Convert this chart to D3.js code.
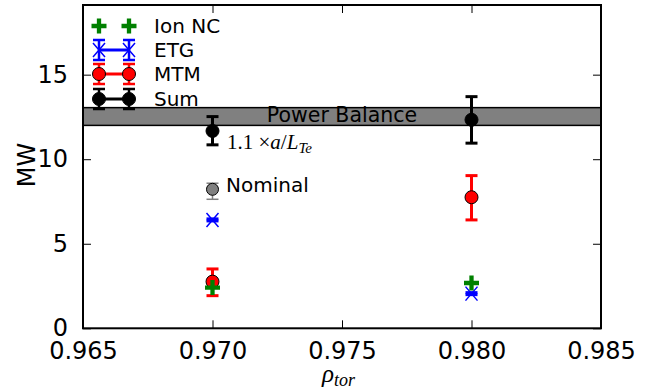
<!DOCTYPE html>
<html><head><meta charset="utf-8">
<script src="https://cdn.jsdelivr.net/npm/d3@7"></script>
<style>
html,body{margin:0;padding:0;background:#fff;}
svg{display:block;}
</style></head>
<body>
<svg id="chart" width="655" height="392"></svg>
<script>
// ---- data ----
const rho = [0.970, 0.980];
const ionNC = [2.41, 2.68];
const etg = [6.41, 2.05];
const etgErr = [0.06, 0.06];
const mtm = [2.76, 7.75];
const mtmLo = [1.93, 6.41];
const mtmHi = [3.51, 9.03];
const sum = [11.67, 12.33];
const sumLo = [10.85, 10.95];
const sumHi = [12.52, 13.70];
const nominalRho = [0.970];
const nominal = [8.22];
const nominalLo = [7.63];
const nominalHi = [8.58];
const powerBalance = [12.0, 13.05];
const xTicks = [0.965, 0.970, 0.975, 0.980, 0.985];
const yTicks = [0, 5, 10, 15];
const legendNames = ["Ion NC", "ETG", "MTM", "Sum"];

// ---- layout ----
const svg = d3.select("#chart");
const L = 83, R = 601, T = 5, B = 328.3;
const x = d3.scaleLinear().domain([0.965, 0.985]).range([L, R]);
const y = d3.scaleLinear().domain([0, 19.12]).range([B, T]);
const font = "DejaVu Sans";

// power balance band
svg.append("rect")
  .attr("x", L).attr("width", R - L)
  .attr("y", y(powerBalance[1])).attr("height", y(powerBalance[0]) - y(powerBalance[1]))
  .attr("fill", "#808080").attr("stroke", "black").attr("stroke-width", 1.5);
svg.append("text").attr("x", x(0.975)).attr("y", y(12.0) - 3.3)
  .attr("text-anchor", "middle").attr("font-family", font).attr("font-size", 20.5)
  .attr("fill", "black").text("Power Balance");

const g = svg.append("g");

function errbar(px, lo, hi, color, cw, sw) {
  g.append("line").attr("x1", px).attr("x2", px).attr("y1", lo).attr("y2", hi)
    .attr("stroke", color).attr("stroke-width", sw);
  [lo, hi].forEach(v => g.append("line").attr("x1", px - cw).attr("x2", px + cw)
    .attr("y1", v).attr("y2", v).attr("stroke", color).attr("stroke-width", sw));
}
function circle(px, py, fill, r) {
  g.append("circle").attr("cx", px).attr("cy", py).attr("r", r || 6.5)
    .attr("fill", fill).attr("stroke", "black").attr("stroke-width", 1);
}
function plus(px, py, color) {
  g.append("path").attr("d", `M${px-7.5},${py}H${px+7.5}M${px},${py-7.5}V${py+7.5}`)
    .attr("stroke", color).attr("stroke-width", 4.3).attr("fill", "none");
}
function cross(px, py, color) {
  g.append("path").attr("d", `M${px-6},${py-7}L${px+6},${py+7}M${px-6},${py+7}L${px+6},${py-7}`)
    .attr("stroke", color).attr("stroke-width", 1.5).attr("fill", "none");
}

// MTM
rho.forEach((r, i) => {
  errbar(x(r), y(mtmLo[i]), y(mtmHi[i]), "red", 6, 3);
  circle(x(r), y(mtm[i]), "red");
});
// ETG
rho.forEach((r, i) => {
  errbar(x(r), y(etg[i] - etgErr[i]), y(etg[i] + etgErr[i]), "blue", 6, 3);
  cross(x(r), y(etg[i]), "blue");
});
// Ion NC
rho.forEach((r, i) => plus(x(r), y(ionNC[i]), "green"));
// Sum
rho.forEach((r, i) => {
  errbar(x(r), y(sumLo[i]), y(sumHi[i]), "black", 6, 3);
  circle(x(r), y(sum[i]), "black");
});
// Nominal
nominalRho.forEach((r, i) => {
  errbar(x(r), y(nominalLo[i]), y(nominalHi[i]), "#808080", 6, 1.5);
  circle(x(r), y(nominal[i]), "#808080", 6);
});

// annotations
const ann = svg.append("text").attr("x", 227).attr("y", 149)
  .attr("font-family", "Liberation Serif").attr("font-size", 21).attr("fill", "black");
ann.append("tspan").text("1.1 ×");
ann.append("tspan").attr("font-style", "italic").text("a");
ann.append("tspan").text("/");
ann.append("tspan").attr("font-style", "italic").text("L");
ann.append("tspan").attr("font-style", "italic").attr("font-size", 15).attr("dy", 4).text("Te");
svg.append("text").attr("x", 226).attr("y", 192).attr("font-family", font)
  .attr("font-size", 20).attr("fill", "black").text("Nominal");

// frame
svg.append("rect").attr("x", L).attr("y", T).attr("width", R - L).attr("height", B - T)
  .attr("fill", "none").attr("stroke", "black").attr("stroke-width", 2);

// axes with inward ticks
const xb = svg.append("g").attr("transform", `translate(0,${B})`)
  .call(d3.axisBottom(x).tickValues(xTicks).tickSize(-8).tickPadding(14).tickFormat(d3.format(".3f")));
const xt = svg.append("g").attr("transform", `translate(0,${T})`)
  .call(d3.axisTop(x).tickValues(xTicks).tickSize(-8).tickFormat(""));
const yl = svg.append("g").attr("transform", `translate(${L},0)`)
  .call(d3.axisLeft(y).tickValues(yTicks).tickSize(-8).tickPadding(15).tickFormat(d3.format("d")));
const yr = svg.append("g").attr("transform", `translate(${R},0)`)
  .call(d3.axisRight(y).tickValues(yTicks).tickSize(-8).tickFormat(""));
[xb, xt, yl, yr].forEach(a => {
  a.select(".domain").remove();
  a.selectAll(".tick line").attr("stroke", "black").attr("stroke-width", 1);
  a.selectAll("text").attr("font-family", font).attr("font-size", 24).attr("fill", "black");
});
xb.selectAll("text").attr("dy", "0.71em");

// axis labels
svg.append("text").attr("transform", "translate(35,165) rotate(-90)")
  .attr("text-anchor", "middle").attr("font-family", font).attr("font-size", 24)
  .attr("fill", "black").text("MW");
const xl = svg.append("text").attr("x", 322).attr("y", 382)
  .attr("font-family", "Liberation Serif").attr("font-style", "italic")
  .attr("font-size", 25).attr("fill", "black");
xl.append("tspan").text("ρ");
xl.append("tspan").attr("font-size", 18).attr("dy", 4).text("tor");

// legend
const lg = svg.append("g");
const lx1 = 99, lx2 = 129, rows = [26, 50, 74, 99];
const lcol = ["green", "blue", "red", "black"];
rows.forEach((ry, i) => {
  const c = lcol[i];
  if (i > 0) {
    lg.append("line").attr("x1", lx1).attr("x2", lx2).attr("y1", ry).attr("y2", ry)
      .attr("stroke", c).attr("stroke-width", 3);
    [lx1, lx2].forEach(px => {
      lg.append("line").attr("x1", px).attr("x2", px).attr("y1", ry - 10).attr("y2", ry + 10)
        .attr("stroke", c).attr("stroke-width", 2.5);
      [ry - 10, ry + 10].forEach(v => lg.append("line").attr("x1", px - 6).attr("x2", px + 6)
        .attr("y1", v).attr("y2", v).attr("stroke", c).attr("stroke-width", 2.5));
    });
  }
  [lx1, lx2].forEach(px => {
    if (i === 0) {
      lg.append("path").attr("d", `M${px-7.5},${ry}H${px+7.5}M${px},${ry-7.5}V${ry+7.5}`)
        .attr("stroke", c).attr("stroke-width", 4.3);
    } else if (i === 1) {
      lg.append("path").attr("d", `M${px-6},${ry-7}L${px+6},${ry+7}M${px-6},${ry+7}L${px+6},${ry-7}`)
        .attr("stroke", c).attr("stroke-width", 1.5);
    } else {
      lg.append("circle").attr("cx", px).attr("cy", ry).attr("r", 6.5)
        .attr("fill", c).attr("stroke", "black").attr("stroke-width", 1);
    }
  });
  lg.append("text").attr("x", 154).attr("y", ry + 7.3).attr("font-family", font)
    .attr("font-size", 20).attr("fill", "black").text(legendNames[i]);
});
</script>
</body></html>
